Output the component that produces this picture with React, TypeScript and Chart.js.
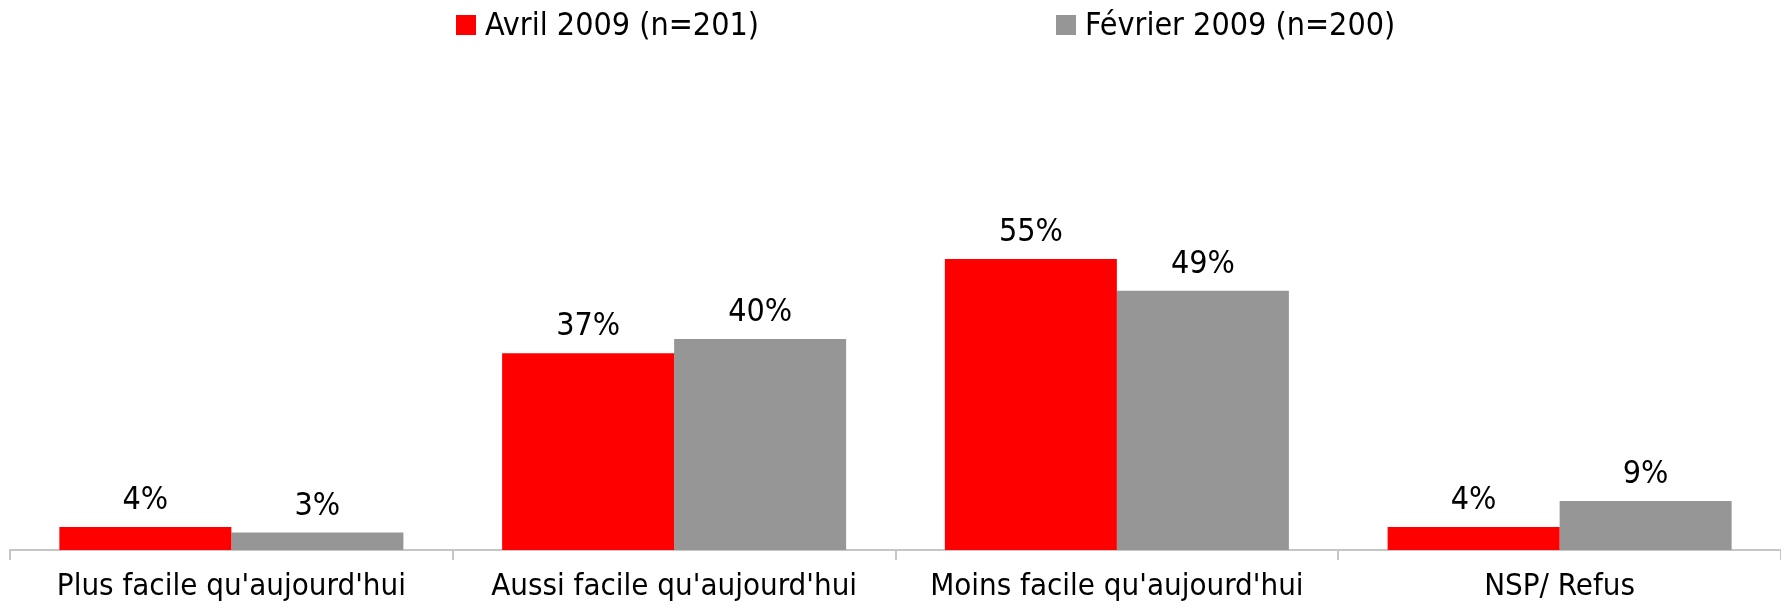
import React, { useEffect, useRef } from "react";
import { Chart, registerables } from "chart.js";

Chart.register(...registerables);

const categories = [
  "Plus facile qu'aujourd'hui",
  "Aussi facile qu'aujourd'hui",
  "Moins facile qu'aujourd'hui",
  "NSP/ Refus",
];
const avril2009 = [4.35, 37.2, 55, 4.35];
const fevrier2009 = [3.3, 39.9, 49, 9.25];
const seriesLabels = ["Avril 2009 (n=201)", "Février 2009 (n=200)"];
const seriesColors = ["#FF0000", "#969696"];

const FONT = '"DejaVu Sans Condensed", "DejaVu Sans", sans-serif';

const valueLabels = {
  id: "valueLabels",
  afterDatasetsDraw(chart: any) {
    const ctx = chart.ctx;
    ctx.save();
    ctx.font = `32px ${FONT}`;
    ctx.fillStyle = "#000";
    ctx.textAlign = "center";
    ctx.textBaseline = "alphabetic";
    chart.data.datasets.forEach((ds: any, i: number) => {
      const meta = chart.getDatasetMeta(i);
      meta.data.forEach((bar: any, j: number) => {
        ctx.fillText(Math.round(ds.data[j]) + "%", bar.x, bar.y - 18);
      });
    });
    ctx.restore();
  },
};

const topLegend = {
  id: "topLegend",
  afterDraw(chart: any) {
    const ctx = chart.ctx;
    ctx.save();
    ctx.font = `32px ${FONT}`;
    ctx.textAlign = "left";
    ctx.textBaseline = "alphabetic";
    const starts = [448, 1048];
    chart.data.datasets.forEach((ds: any, i: number) => {
      const x = starts[i];
      ctx.fillStyle = ds.backgroundColor;
      ctx.fillRect(x, 7, 20, 20);
      ctx.fillStyle = "#000";
      ctx.fillText(ds.label, x + 29, 27);
    });
    ctx.restore();
  },
};

export default function App() {
  const ref = useRef<HTMLCanvasElement | null>(null);
  useEffect(() => {
    if (!ref.current) return;
    const chart = new Chart(ref.current, {
      type: "bar",
      data: {
        labels: categories,
        datasets: [
          { label: seriesLabels[0], data: avril2009, backgroundColor: seriesColors[0] },
          { label: seriesLabels[1], data: fevrier2009, backgroundColor: seriesColors[1] },
        ],
      },
      options: {
        animation: false,
        responsive: false,
        maintainAspectRatio: false,
        layout: { padding: { top: 66, left: 2, right: 0, bottom: 0 } },
        datasets: { bar: { categoryPercentage: 0.777, barPercentage: 1 } },
        plugins: { legend: { display: false }, tooltip: { enabled: false } },
        scales: {
          x: {
            afterFit(scale: any) {
              scale.height = 61;
            },
            grid: {
              display: true,
              drawOnChartArea: false,
              drawTicks: true,
              tickLength: 10,
              color: "#c6c6c6",
              lineWidth: 2,
              offset: true,
            },
            border: { display: true, color: "#c6c6c6", width: 2 },
            ticks: {
              font: { family: FONT, size: 31 },
              color: "#000",
              padding: 8,
              maxRotation: 0,
              autoSkip: false,
            },
          },
          y: { display: false, min: 0, max: 90 },
        },
      },
      plugins: [valueLabels, topLegend],
    });
    return () => chart.destroy();
  }, []);
  return (
    <div>
      <canvas
        ref={ref}
        width={1773}
        height={603}
        style={{ display: "block", marginBottom: -8 }}
      />
    </div>
  );
}
